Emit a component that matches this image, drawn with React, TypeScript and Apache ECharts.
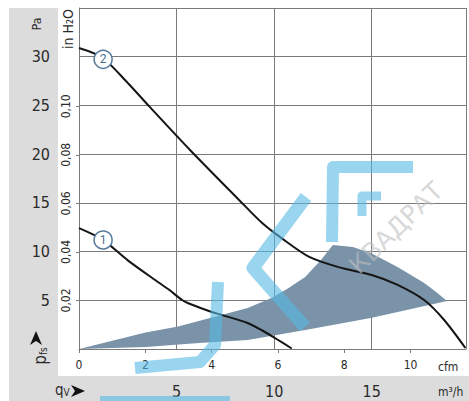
import React, { useEffect, useRef } from 'react';
import * as echarts from 'echarts';

const M3H_PER_CFM = 1.69901;
const PA_PER_INH2O = 249.089;
const X_MAX_M3H = 19.83;
const Y_MAX_PA = 35;

const M3H_TICKS = [5, 10, 15];
const CFM_TICKS = [0, 2, 4, 6, 8, 10];
const PA_TICKS = [5, 10, 15, 20, 25, 30];
const INH2O_TICKS = [0.02, 0.04, 0.06, 0.08, 0.1];

const CURVE1_Q = [0, 1.22, 2.5, 4.1, 4.6, 5.3, 5.6, 6.8, 7.3, 8.6, 9.35, 10.1, 10.9];
const CURVE1_P = [12.4, 11.2, 9.1, 6.8, 6.1, 5.0, 4.7, 3.8, 3.5, 2.7, 1.95, 1.05, 0.05];

const CURVE2_Q = [0, 1.2, 2.5, 3.6, 5.7, 8.2, 9.4, 10.5, 11.8, 13.3, 15.0, 16.3, 17.7, 18.7, 19.8];
const CURVE2_P = [30.9, 29.9, 27.3, 24.9, 20.4, 15.3, 12.9, 11.2, 9.45, 8.4, 7.6, 6.6, 5.0, 3.0, 0.1];

const AREA_Q = [0, 3.41, 6.15, 8.64, 11.59, 14.95, 18.86, 18.3, 17.69, 16.32, 14.95, 14.03, 13.01, 12.4, 11.59, 10.7, 9.86, 8.64, 5.08, 3.41];
const AREA_P = [0, 0.2, 0.62, 0.92, 1.95, 3.18, 4.93, 5.85, 6.77, 8.42, 9.85, 10.47, 10.67, 9.13, 7.39, 6.2, 5.23, 4.21, 2.3, 1.7];

const MARKER_Q = [1.235, 1.235];
const MARKER_P = [29.73, 11.19];
const MARKER_LABELS = ['2', '1'];

const FONT = "'Liberation Sans Narrow', 'DejaVu Sans Condensed', Roboto, sans-serif";
const TEXT = '#2a2a2a';
const GRID = '#7a7a7a';
const PANEL = '#dcdcdc';
const WM = 'rgba(85,185,228,0.6)';

const pairs = (a: number[], b: number[]) => a.map((v, i) => [v, b[i]]);

function buildOption(): any {
  return {
    animation: false,
    backgroundColor: '#ffffff',
    grid: { left: 79, top: 8, right: 0, bottom: 52, containLabel: false },
    xAxis: [
      {
        type: 'value', min: 0, max: X_MAX_M3H, interval: 5, position: 'bottom',
        axisLine: { show: false }, axisTick: { show: false },
        splitLine: { show: true, lineStyle: { color: GRID, width: 1 } },
        axisLabel: {
          margin: 34, fontSize: 16, color: TEXT, fontFamily: FONT,
          formatter: (v: number) => (M3H_TICKS.includes(v) ? String(v) : ''),
        },
      },
      {
        type: 'value', min: 0, max: X_MAX_M3H / M3H_PER_CFM, interval: 2, position: 'bottom',
        axisLine: { show: true, lineStyle: { color: GRID, width: 1 } },
        axisTick: { show: true, length: 4, lineStyle: { color: GRID }, customValues: CFM_TICKS },
        splitLine: { show: false },
        axisLabel: {
          margin: 10, fontSize: 12, color: TEXT, fontFamily: FONT,
          customValues: CFM_TICKS,
          formatter: (v: number) => String(v),
        },
      },
    ],
    yAxis: [
      {
        type: 'value', min: 0, max: Y_MAX_PA, interval: 5, position: 'left',
        axisLine: { show: true, lineStyle: { color: GRID, width: 1 } },
        axisTick: { show: false },
        splitLine: { show: true, lineStyle: { color: GRID, width: 1 } },
        axisLabel: {
          margin: 29, fontSize: 16, color: TEXT, fontFamily: FONT,
          formatter: (v: number) => (PA_TICKS.includes(v) ? String(v) : ''),
        },
      },
      {
        type: 'value', min: 0, max: Y_MAX_PA / PA_PER_INH2O, interval: 0.02, position: 'left',
        axisLine: { show: false },
        axisTick: { show: true, length: 3, lineStyle: { color: GRID }, customValues: INH2O_TICKS },
        splitLine: { show: false },
        axisLabel: {
          rotate: 90, margin: 7, fontSize: 12, color: TEXT, fontFamily: FONT,
          customValues: INH2O_TICKS,
          formatter: (v: number) => v.toFixed(2).replace('.', ','),
        },
      },
    ],
    series: [
      {
        type: 'custom',
        xAxisIndex: 0, yAxisIndex: 0,
        data: pairs(AREA_Q, AREA_P),
        renderItem: (params: any, api: any) => {
          if (params.dataIndex !== 0) return null;
          const pts = AREA_Q.map((q, i) => api.coord([q, AREA_P[i]]));
          return { type: 'polygon', shape: { points: pts, smooth: 0 }, style: { fill: '#7a93a9' } };
        },
        z: 1,
        silent: true,
      },
      {
        type: 'line', xAxisIndex: 0, yAxisIndex: 0,
        data: pairs(CURVE1_Q, CURVE1_P),
        smooth: 0.3, symbol: 'none',
        lineStyle: { color: '#151515', width: 2 },
        z: 3,
      },
      {
        type: 'line', xAxisIndex: 0, yAxisIndex: 0,
        data: pairs(CURVE2_Q, CURVE2_P),
        smooth: 0.3, symbol: 'none',
        lineStyle: { color: '#151515', width: 2 },
        z: 3,
      },
      {
        type: 'scatter', xAxisIndex: 0, yAxisIndex: 0,
        data: MARKER_Q.map((q, i) => [q, MARKER_P[i], MARKER_LABELS[i]]),
        symbol: 'circle', symbolSize: 18,
        itemStyle: { color: '#ffffff', borderColor: '#54799b', borderWidth: 1.5, opacity: 1 },
        label: {
          show: true, position: 'inside', color: '#4a6f91', fontSize: 12, fontFamily: 'Roboto, sans-serif',
          formatter: (p: any) => p.value[2],
        },
        z: 5,
      },
    ],
    graphic: [
      { type: 'rect', z: -100, silent: true, shape: { x: 9, y: 8, width: 49, height: 393 }, style: { fill: PANEL } },
      { type: 'rect', z: -100, silent: true, shape: { x: 9, y: 376, width: 460, height: 25 }, style: { fill: PANEL } },
      { type: 'text', x: 37, y: 24, rotation: Math.PI / 2, silent: true,
        style: { text: 'Pa', fontSize: 12, fontFamily: FONT, fill: TEXT, align: 'center', verticalAlign: 'middle' } },
      { type: 'text', x: 68, y: 29, rotation: Math.PI / 2, silent: true,
        style: { text: 'in H₂O', fontSize: 14, fontFamily: FONT, fill: TEXT, align: 'center', verticalAlign: 'middle' } },
      { type: 'text', x: 438, y: 367, silent: true,
        style: { text: 'cfm', fontSize: 12, fontFamily: FONT, fill: TEXT, align: 'left', verticalAlign: 'middle' } },
      { type: 'text', x: 438, y: 392, silent: true,
        style: { text: 'm³/h', fontSize: 12, fontFamily: FONT, fill: TEXT, align: 'left', verticalAlign: 'middle' } },
      { type: 'text', x: 40, y: 356, rotation: Math.PI / 2, silent: true,
        style: {
          text: '{a|p}{b|fs}', fontFamily: FONT, fill: TEXT, align: 'center', verticalAlign: 'middle',
          rich: { a: { fontSize: 17, fontFamily: FONT, fill: TEXT, verticalAlign: 'bottom' }, b: { fontSize: 10, fontFamily: FONT, fill: TEXT, verticalAlign: 'bottom' } },
        } },
      { type: 'polygon', silent: true, shape: { points: [[36, 331], [42, 345], [36, 341], [30, 345]] }, style: { fill: '#111' } },
      { type: 'text', x: 55, y: 390, silent: true,
        style: {
          text: '{a|q}{b|V}', fontFamily: FONT, fill: TEXT, align: 'left', verticalAlign: 'middle',
          rich: { a: { fontSize: 15, fontFamily: FONT, fill: TEXT, verticalAlign: 'bottom' }, b: { fontSize: 10, fontFamily: FONT, fill: TEXT, verticalAlign: 'bottom' } },
        } },
      { type: 'polygon', silent: true, shape: { points: [[85, 391], [71, 385], [75, 391], [71, 397]] }, style: { fill: '#111' } },
      // watermark
      { type: 'polyline', z: 50, silent: true, shape: { points: [[332, 242], [333, 167], [413, 167]] }, style: { stroke: WM, lineWidth: 12, lineJoin: 'round', fill: null } },
      { type: 'polyline', z: 50, silent: true, shape: { points: [[362, 216], [362, 196], [381, 196]] }, style: { stroke: WM, lineWidth: 9, lineJoin: 'round', fill: null } },
      { type: 'polyline', z: 50, silent: true, shape: { points: [[306, 197], [253, 268], [305, 327]] }, style: { stroke: WM, lineWidth: 13, lineJoin: 'round', fill: null } },
      { type: 'polyline', z: 50, silent: true, shape: { points: [[218, 282], [215, 345], [200, 362], [135, 368]] }, style: { stroke: WM, lineWidth: 12, lineJoin: 'round', fill: null } },
      { type: 'line', z: 50, silent: true, shape: { x1: 100, y1: 400, x2: 230, y2: 400 }, style: { stroke: WM, lineWidth: 8 } },
      { type: 'text', z: 51, x: 396, y: 228, rotation: 0.77, silent: true,
        style: { text: 'КВАДРАТ', fontSize: 25, fontFamily: "'DejaVu Sans', sans-serif", fill: 'rgba(190,190,190,0.6)', align: 'center', verticalAlign: 'middle' } },
    ],
  };
}

export default function App() {
  const ref = useRef<HTMLDivElement>(null);
  useEffect(() => {
    const chart = echarts.init(ref.current as HTMLDivElement, null, { renderer: 'svg' });
    chart.setOption(buildOption());
    return () => chart.dispose();
  }, []);
  return <div ref={ref} style={{ position: 'fixed', left: 0, top: 0, width: 469, height: 401 }} />;
}
